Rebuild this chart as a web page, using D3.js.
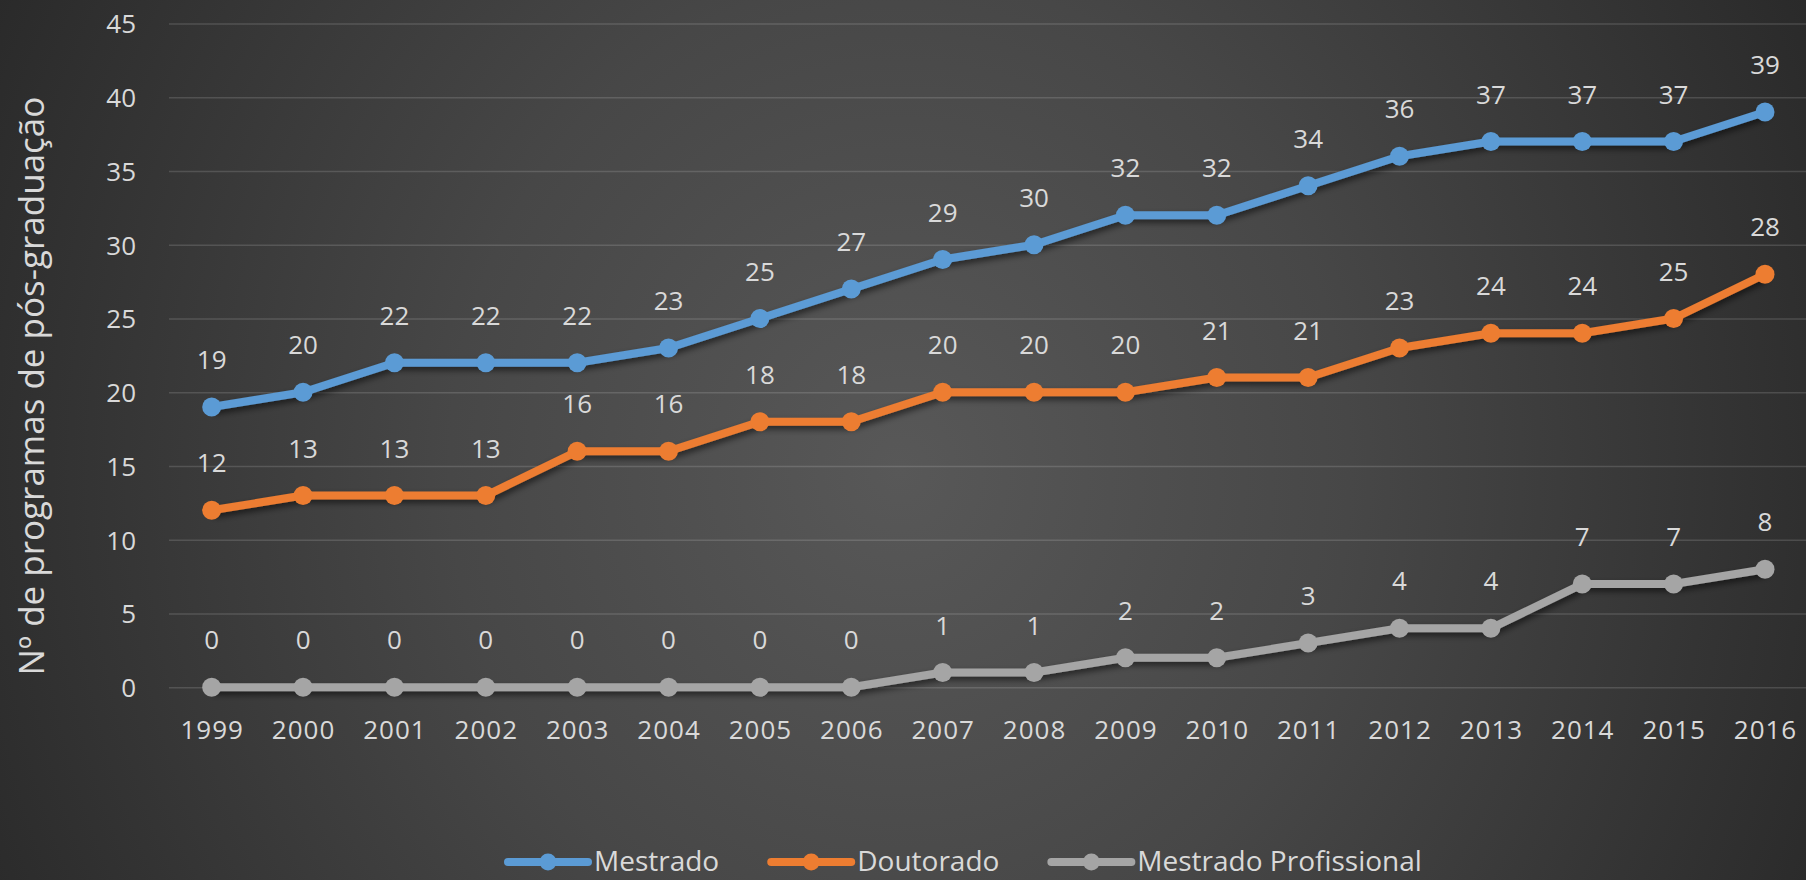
<!DOCTYPE html>
<html>
<head>
<meta charset="utf-8">
<script src="https://cdn.jsdelivr.net/npm/d3@7"></script>
<style>
  html, body { margin: 0; padding: 0; }
  body { width: 1806px; height: 880px; overflow: hidden;
    background: radial-gradient(ellipse 1000px 1100px at 900px 470px, #585858 0%, #474747 45%, #2a2a2a 100%); }
  svg { display: block; }
  text { font-family: "Open Sans", "Noto Sans", sans-serif; fill: #d9d9d9; }
</style>
</head>
<body>
<svg id="chart" width="1806" height="880"></svg>
<script>
const years = ["1999","2000","2001","2002","2003","2004","2005","2006","2007","2008","2009","2010","2011","2012","2013","2014","2015","2016"];
const mestrado     = [19,20,22,22,22,23,25,27,29,30,32,32,34,36,37,37,37,39];
const doutorado    = [12,13,13,13,16,16,18,18,20,20,20,21,21,23,24,24,25,28];
const profissional = [0,0,0,0,0,0,0,0,1,1,2,2,3,4,4,7,7,8];
const seriesNames  = ["Mestrado","Doutorado","Mestrado Profissional"];
const seriesColors = ["#5B9BD5","#ED7D31","#A5A5A5"];
const yTicks = [0,5,10,15,20,25,30,35,40,45];
const yTitle = "Nº de programas de pós-graduação";

const series = [mestrado, doutorado, profissional].map((vals, i) => ({
  name: seriesNames[i], color: seriesColors[i],
  values: vals.map((v, j) => ({ year: years[j], v }))
}));

const svg = d3.select("#chart");
const defs = svg.append("defs");
const f = defs.append("filter").attr("id","shadow").attr("x","-10%").attr("y","-10%").attr("width","120%").attr("height","130%");
f.append("feDropShadow").attr("dx",1.5).attr("dy",3.5).attr("stdDeviation",3)
  .attr("flood-color","#000").attr("flood-opacity",0.55);

const gridLeft = 169, gridRight = 1806;
const x = d3.scalePoint().domain(years).range([211.7, 1765]);
const y = d3.scaleLinear().domain([0, 45]).range([687.3, 23.5]);

// Y axis with gridlines
const yAxis = svg.append("g").attr("transform", `translate(${gridLeft},0)`)
  .call(d3.axisLeft(y).tickValues(yTicks).tickSizeInner(-(gridRight - gridLeft)).tickSizeOuter(0).tickPadding(33));
yAxis.select(".domain").remove();
yAxis.selectAll("line").attr("stroke", "rgba(255,255,255,0.14)").attr("stroke-width", 1.5);
yAxis.selectAll("text").style("font-size", "26px").attr("fill", "#d9d9d9").attr("dy", "0.36em");

// X axis
const xAxis = svg.append("g").attr("transform", `translate(0,${y(0)})`)
  .call(d3.axisBottom(x).tickSize(0).tickPadding(33));
xAxis.select(".domain").remove();
xAxis.selectAll("text").style("font-size", "26px").attr("fill", "#d9d9d9").style("letter-spacing", "1px");

// Y title
svg.append("text")
  .attr("transform", "translate(44,386) rotate(-90)")
  .attr("text-anchor", "middle")
  .style("font-size", "35px")
  .text(yTitle);

// Lines
const line = d3.line().x(d => x(d.year)).y(d => y(d.v));
const sg = svg.selectAll("g.series").data(series.slice().reverse()).join("g").attr("class","series");
sg.append("path")
  .attr("d", d => line(d.values))
  .attr("fill", "none")
  .attr("stroke", d => d.color)
  .attr("stroke-width", 8)
  .attr("stroke-linejoin", "round")
  .attr("filter", "url(#shadow)");
sg.selectAll("circle").data(d => d.values.map(p => ({...p, color: d.color}))).join("circle")
  .attr("cx", d => x(d.year)).attr("cy", d => y(d.v)).attr("r", 9.5)
  .attr("fill", d => d.color);

// Data labels
sg.selectAll("text.lbl").data(d => d.values).join("text").attr("class","lbl")
  .attr("x", d => x(d.year)).attr("y", d => y(d.v) - 38)
  .attr("text-anchor", "middle")
  .style("font-size", "26px")
  .text(d => d.v);

// Legend
const legend = svg.append("g");
let lx = 508;
series.forEach(s => {
  const g = legend.append("g");
  g.append("line").attr("x1", lx).attr("x2", lx + 80).attr("y1", 862).attr("y2", 862)
    .attr("stroke", s.color).attr("stroke-width", 8).attr("stroke-linecap", "round");
  g.append("circle").attr("cx", lx + 40).attr("cy", 862).attr("r", 8.5).attr("fill", s.color);
  const t = g.append("text").attr("x", lx + 86).attr("y", 871).style("font-size", "28px").text(s.name);
  lx = lx + 86 + t.node().getComputedTextLength() + 52;
});
</script>
</body>
</html>
